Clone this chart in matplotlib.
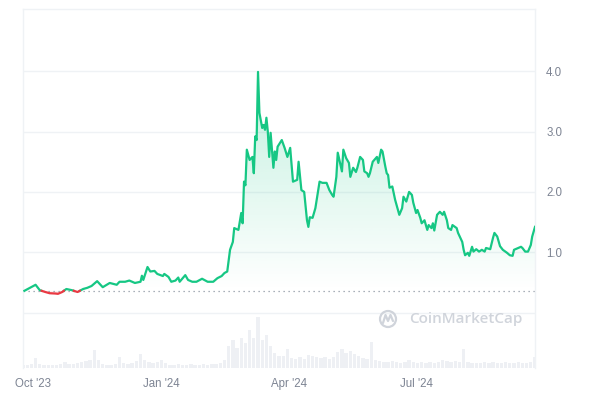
import numpy as np
import pandas as pd
import matplotlib
matplotlib.use("Agg")
import matplotlib.pyplot as plt
import matplotlib.dates as mdates
from matplotlib.path import Path
from matplotlib.patches import Circle, PathPatch
from matplotlib.transforms import IdentityTransform

# ---------------- data ----------------
start_date = "2023-09-24"
price_days = [1, 5, 9, 12, 16, 19, 23, 25, 28, 31, 35, 39, 43, 46, 49, 53, 57, 62, 67, 69,
              73, 76, 80, 84, 85, 86, 89, 91, 94, 96, 100, 101, 104, 106, 109, 111, 112, 116, 118, 121,
              124, 128, 132, 136, 139, 142, 144, 146, 148, 150, 151, 154, 156, 157, 158, 159, 160, 162, 164, 165,
              166, 167, 168, 169, 171, 172, 173, 174, 175, 176, 177, 179, 180, 181, 182, 185, 187, 189, 191, 193,
              196, 197, 199, 201, 203, 204, 205, 207, 209, 212, 214, 217, 219, 221, 222, 224, 225, 228, 229, 231,
              233, 234, 236, 238, 239, 241, 243, 244, 246, 247, 248, 250, 253, 254, 256, 257, 259, 260, 261, 262,
              264, 266, 268, 269, 271, 272, 274, 276, 278, 279, 281, 282, 284, 285, 287, 289, 290, 292, 293, 294,
              296, 298, 300, 301, 303, 304, 306, 307, 310, 311, 314, 315, 316, 318, 319, 321, 322, 324, 326, 328,
              330, 331, 334, 336, 337, 339, 341, 343, 346, 348, 350, 351, 354, 356, 357, 359, 361, 363, 364, 366]
prices = [0.36, 0.41, 0.46, 0.37, 0.34, 0.32, 0.315, 0.31, 0.34, 0.39, 0.37, 0.34, 0.39, 0.41, 0.44, 0.52, 0.42, 0.49, 0.46, 0.51,
          0.51, 0.53, 0.49, 0.51, 0.61, 0.54, 0.755, 0.68, 0.69, 0.64, 0.605, 0.64, 0.59, 0.51, 0.53, 0.58, 0.51, 0.62, 0.54, 0.51,
          0.51, 0.56, 0.51, 0.51, 0.57, 0.605, 0.655, 0.68, 1.04, 1.17, 1.40, 1.37, 1.65, 1.48, 2.17, 2.11, 2.70, 2.53, 2.58, 2.31,
          2.92, 2.86, 3.99, 3.31, 3.06, 3.11, 3.03, 3.23, 3.00, 2.58, 2.98, 2.40, 2.67, 2.53, 2.75, 2.86, 2.73, 2.58, 2.73, 2.17,
          2.20, 2.50, 2.03, 2.00, 1.53, 1.42, 1.58, 1.57, 1.73, 2.17, 2.15, 2.15, 2.03, 1.95, 1.92, 2.25, 2.65, 2.34, 2.70, 2.56,
          2.48, 2.25, 2.40, 2.33, 2.40, 2.58, 2.53, 2.34, 2.31, 2.25, 2.31, 2.50, 2.58, 2.48, 2.70, 2.67, 2.42, 2.31, 2.28, 2.07,
          2.09, 1.87, 1.70, 1.62, 1.73, 1.92, 1.84, 2.00, 1.95, 1.82, 1.65, 1.70, 1.57, 1.48, 1.53, 1.37, 1.45, 1.40, 1.48, 1.36,
          1.62, 1.67, 1.62, 1.67, 1.53, 1.40, 1.37, 1.45, 1.40, 1.32, 1.17, 1.04, 0.95, 0.99, 0.94, 1.09, 1.01, 1.05, 1.01, 1.04,
          1.01, 1.07, 1.05, 1.24, 1.32, 1.26, 1.10, 1.04, 0.99, 0.95, 0.94, 1.04, 1.07, 1.09, 1.07, 1.01, 1.01, 1.12, 1.26, 1.42]
baseline_price = 0.36

volume_step_days = 3
volume = [3, 3, 4, 10, 4, 3, 3, 3, 3, 4, 6, 4, 4, 5, 6, 7, 8, 18, 8, 4,
          3, 3, 4, 11, 5, 4, 5, 7, 14, 8, 6, 5, 6, 8, 5, 3, 3, 4, 3, 3,
          4, 3, 3, 4, 3, 4, 4, 5, 8, 22, 28, 20, 30, 25, 38, 30, 51, 28, 33, 22,
          15, 12, 12, 19, 10, 9, 11, 9, 13, 12, 11, 10, 11, 9, 11, 16, 19, 15, 17, 14,
          12, 10, 9, 26, 8, 7, 6, 6, 7, 6, 5, 6, 8, 6, 5, 6, 5, 6, 5, 6,
          8, 7, 6, 7, 6, 19, 6, 5, 5, 5, 6, 5, 6, 5, 5, 6, 5, 5, 6, 5,
          5, 6, 11]

tick_dates = ["2023-10-01", "2024-01-01", "2024-04-01", "2024-07-01"]
tick_labels = ["Oct '23", "Jan '24", "Apr '24", "Jul '24"]
y_ticks = [1.0, 2.0, 3.0, 4.0]
y_labels = ["1.0", "2.0", "3.0", "4.0"]

GREEN = "#16c784"
RED = "#ea3943"
GRID = "#eff2f5"
TXT = "#7d8493"

# ---------------- figure ----------------
fig = plt.figure(figsize=(6, 4), dpi=100)
rect = [23 / 600, 32 / 400, 512 / 600, 359 / 400]
vax = fig.add_axes(rect)
ax = fig.add_axes(rect)
ax.patch.set_alpha(0)

start = pd.Timestamp(start_date)
xd = mdates.date2num(start + pd.to_timedelta(price_days, unit="D"))
pr = np.array(prices, dtype=float)
x0 = mdates.date2num(start)
x1 = mdates.date2num(start + pd.Timedelta(days=366))

# volume bars
vdays = np.arange(len(volume)) * volume_step_days
vx = mdates.date2num(start + pd.to_timedelta(vdays, unit="D"))
vax.bar(vx, volume, width=volume_step_days * 0.8, color="#eef0f4", align="center", linewidth=0)
vax.set_ylim(0, 359)
vax.set_xlim(x0, x1)
vax.axis("off")

# insert crossing points with baseline
xs, ps = [xd[0]], [pr[0]]
for i in range(1, len(pr)):
    a, b = pr[i - 1] - baseline_price, pr[i] - baseline_price
    if a * b < 0:
        t = a / (a - b)
        xs.append(xd[i - 1] + t * (xd[i] - xd[i - 1]))
        ps.append(baseline_price)
    xs.append(xd[i])
    ps.append(pr[i])
xs, ps = np.array(xs), np.array(ps)

ymin, ymax = -0.92, 5.033

# gridlines
for g in [0, 1, 2, 3, 4]:
    ax.axhline(g, color=GRID, lw=1, zorder=0)

# gradient fills
above = ps >= baseline_price
below = ps <= baseline_price
pmax = ps.max()
n = 256
grad = np.zeros((n, 1, 4))
grad[:, 0, :3] = matplotlib.colors.to_rgb(GREEN)
grad[:, 0, 3] = np.linspace(0.0, 0.26, n)
poly = ax.fill_between(xs, ps, baseline_price, where=above, facecolor="none", edgecolor="none")
im = ax.imshow(grad, extent=[x0, x1, baseline_price, pmax], aspect="auto", origin="lower", zorder=1,
               interpolation="bilinear")
im.set_clip_path(Path.make_compound_path(*poly.get_paths()), transform=ax.transData)

gradr = np.zeros((n, 1, 4))
gradr[:, 0, :3] = matplotlib.colors.to_rgb(RED)
gradr[:, 0, 3] = np.linspace(0.25, 0.0, n)
polyr = ax.fill_between(xs, ps, baseline_price, where=below, facecolor="none", edgecolor="none")
imr = ax.imshow(gradr, extent=[x0, x1, ps.min(), baseline_price], aspect="auto", origin="lower", zorder=1,
                interpolation="bilinear")
imr.set_clip_path(Path.make_compound_path(*polyr.get_paths()), transform=ax.transData)

# lines
ax.plot(xs, np.where(above, ps, np.nan), color=GREEN, lw=1.6, zorder=3, solid_joinstyle="round")
ax.plot(xs, np.where(below, ps, np.nan), color=RED, lw=1.6, zorder=3, solid_joinstyle="round")

# baseline
ax.axhline(baseline_price, color="#8f96a3", lw=0.9, ls=(0, (1, 3)), zorder=2)

ax.set_xlim(x0, x1)
ax.set_ylim(ymin, ymax)

ax.yaxis.tick_right()
ax.set_yticks(y_ticks)
ax.set_yticklabels(y_labels)
ax.set_xticks(mdates.date2num(pd.to_datetime(tick_dates)))
ax.set_xticklabels(tick_labels)
ax.tick_params(axis="y", length=0, pad=8, labelsize=8.3, colors=TXT)
ax.tick_params(axis="x", length=0, pad=7, labelsize=8.3, colors=TXT)
for lab in ax.get_xticklabels() + ax.get_yticklabels():
    lab.set_fontfamily("Liberation Sans")

for s in ["left", "right", "top"]:
    ax.spines[s].set_color(GRID)
    ax.spines[s].set_linewidth(1)
ax.spines["bottom"].set_visible(False)

# watermark
WM = "#d0d4db"
fig.text(409 / 600, 1 - 319 / 400, "CoinMarketCap", fontsize=11, fontweight="semibold",
         color=WM, va="center", ha="left", family="Open Sans")
circ = Circle((388, 81), 8, transform=IdentityTransform(), fill=False, ec=WM, lw=1.6)
fig.patches.append(circ)
mpath = Path([(383, 77), (385.5, 85), (388, 79), (390.5, 85), (393, 79)])
fig.patches.append(PathPatch(mpath, transform=IdentityTransform(), fill=False, ec=WM, lw=1.6,
                             capstyle="round", joinstyle="round"))

fig.savefig("out.png", dpi=100)
